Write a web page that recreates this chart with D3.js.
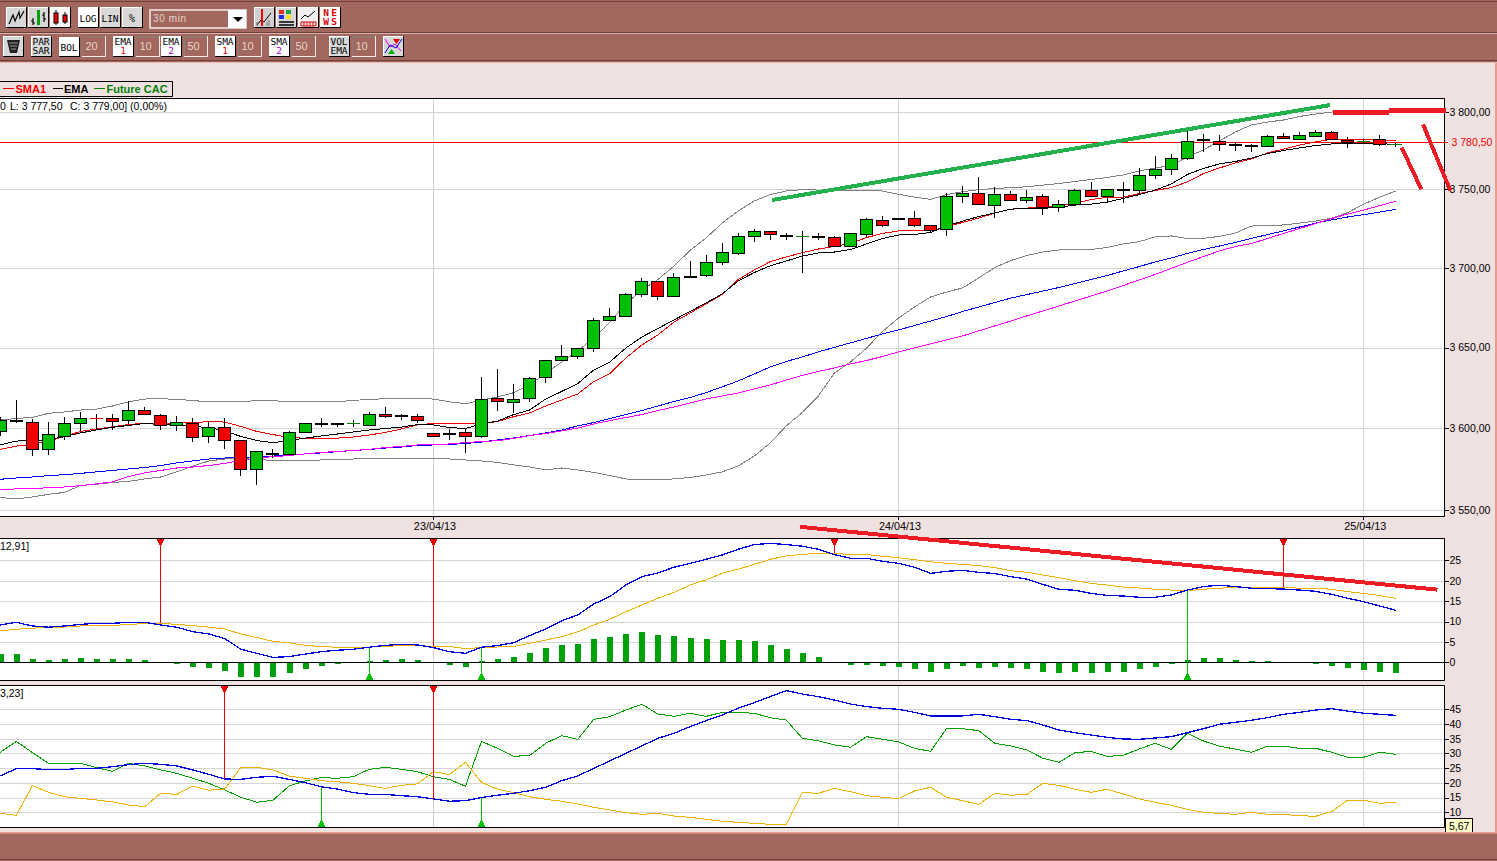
<!DOCTYPE html>
<html>
<head>
<meta charset="utf-8">
<title>Future CAC 30 min</title>
<script src="https://cdn.jsdelivr.net/npm/d3@7"></script>
<style>
  html, body { margin: 0; padding: 0; background: #f0e1e1; overflow: hidden; }
  svg { display: block; }
  text { font-family: "Liberation Sans", Arial, sans-serif; font-size: 10.5px; fill: #000; }
  .tb text { font-family: "DejaVu Sans Mono", monospace; font-size: 9.5px; text-anchor: middle; }
</style>
</head>
<body>
<svg id="chart" width="1497" height="861"></svg>
<script>
// 30 min candles, one entry per bar
var open = [3598,3604.5,3604,3587,3595.5,3603.5,3606,3606,3605,3611,
  3608,3602,3603.5,3595,3600.5,3592.5,3575,3585,3584,3597.5,
  3602.5,3603.5,3603,3602,3608.5,3607.5,3607.5,3597,3596.5,3597.5,
  3595.5,3618.5,3616,3618.5,3631.5,3642.5,3645,3649.5,3667,3669.5,
  3683.5,3692,3682,3694.5,3695.5,3704,3709.5,3720.5,3723.5,3720.5,
  3720.5,3719.5,3719.5,3714,3721.5,3730.5,3731,3731.5,3727,3725,
  3745.5,3748,3740,3747,3743.5,3745.5,3739,3741,3749.5,3746,
  3750.5,3749.5,3759.5,3763,3770.5,3782,3781.5,3779.5,3778,3778,
  3784.5,3782.5,3784.5,3787,3782,3781,3782.5,3779];
var close = [3605,3605,3587,3596.5,3603.5,3606,3606,3604.5,3611,3608.5,
  3602,3604,3594.5,3600.5,3592.5,3575,3586,3584,3597.5,3603,
  3603.5,3602.5,3603,3608.5,3607.5,3608,3605,3595.5,3597,3595.5,
  3618,3616.5,3618,3631,3642.5,3644.5,3649.5,3667,3670,3683.5,
  3691.5,3682.5,3694.5,3695,3704,3710,3720.5,3723.5,3721.5,3721,
  3720.5,3720,3714,3722,3731,3727.5,3731.5,3727,3724,3746,
  3748,3740.5,3747,3743.5,3745,3738.5,3740.5,3749.5,3745.5,3750.5,
  3749.5,3759.5,3763,3770.5,3781,3782.5,3779.5,3778.5,3778.5,3784.5,
  3783,3785,3787,3782.5,3780.5,3781,3779,3779];
var high = [3607,3617.5,3605.5,3604,3607,3610,3608.5,3608.5,3616.5,3613,
  3608.5,3607.5,3606,3604.5,3606,3592.5,3586,3587,3598,3603.5,
  3606.5,3603.5,3605,3610,3613,3609,3608.5,3597,3599.5,3599.5,
  3631.5,3636.5,3627.5,3631.5,3642.5,3651.5,3650,3668.5,3674.5,3684.5,
  3693.5,3692,3697,3704.5,3708,3716,3722,3725,3723.5,3722,
  3723.5,3722,3720.5,3722,3732,3733,3731.5,3736,3727,3748,
  3752,3758,3751.5,3749,3749.5,3747,3743,3750.5,3755,3750.5,
  3755,3763.5,3771.5,3772.5,3787.5,3786,3785,3780.5,3779.5,3785,
  3786.5,3787,3788,3787.5,3783.5,3782.5,3785,3780];
var low = [3595,3603.5,3583,3583.5,3592.5,3598,3599.5,3599,3602.5,3608,
  3599,3598,3591.5,3591,3587.5,3570.5,3565,3581.5,3583.5,3597,
  3600.5,3600.5,3601,3602,3606.5,3605,3603,3595.5,3593,3584.5,
  3594,3610.5,3609.5,3616,3628,3642.5,3643,3647,3666.5,3669,
  3681.5,3680,3681.5,3693.5,3694.5,3702,3708.5,3716.5,3717.5,3718,
  3696.5,3717.5,3714,3714,3719.5,3726,3731,3726,3722.5,3720.5,
  3741.5,3740.5,3731.5,3743.5,3741.5,3733.5,3735.5,3740,3745.5,3741.5,
  3741.5,3747,3757,3759,3769,3774,3775,3775,3774,3778,
  3783,3782.5,3784.5,3782.5,3776.5,3780,3778,3777.5];
var flatRedBars = [6];

// overlays on the price panel
var bolUp = [3605,3606,3606.7,3609.2,3610,3611.2,3611.8,3613.7,3616.3,3618,
  3618.2,3617.8,3617.1,3616.2,3616.2,3616.3,3617.1,3617,3616.3,3616.3,
  3616.2,3616.3,3617.2,3617.7,3618.2,3618.2,3618.2,3618,3616.3,3615.1,
  3617.4,3619.3,3621.9,3626.7,3634.1,3641,3647.9,3656,3666,3677.3,
  3686.1,3692.7,3701.2,3711.1,3719,3728.5,3736.2,3742.6,3746.7,3749,
  3749.9,3749.6,3749.3,3749.2,3749.3,3749,3746.9,3745.1,3743.6,3746.7,
  3748.6,3749.9,3750.6,3751.2,3751.7,3752.8,3753.8,3755.1,3756.4,3757.7,
  3759.3,3761.9,3763.8,3765.4,3770.9,3775.4,3781.2,3787.1,3791.6,3793.5,
  3794.8,3797.1,3798.7,3800,3800.3,3800.3,3800.3,3800.3];
var bolLow = [3557.6,3556.7,3557.9,3559.5,3560.7,3564.9,3565.6,3566.8,3567.4,3568.9,
  3570.1,3573.2,3576.8,3579.9,3581.1,3581.4,3580.8,3580.2,3579.9,3579.9,
  3580.5,3580.8,3581.1,3581.3,3581.4,3581.4,3581.4,3581.5,3581.1,3580.5,
  3579.9,3579,3577.5,3576.2,3574.4,3575.6,3574.4,3572.9,3571,3568.9,
  3568.3,3568.6,3568.9,3569.8,3571.3,3573.2,3576.8,3582.9,3590.9,3601.4,
  3609.7,3619.9,3634.1,3641,3649.7,3660,3668.5,3675.4,3681.7,3684.8,
  3687.4,3693.7,3700.3,3704.7,3707.9,3710.1,3711.4,3711.4,3711.7,3713,
  3715.2,3716.7,3719.7,3720.3,3718.7,3718.8,3720,3722.2,3726.6,3727,
  3727.3,3728.5,3729.8,3731.7,3735.2,3740.6,3745.1,3749];
var ema1 = [3589.7,3592.1,3592.4,3593,3594.9,3597.1,3598.9,3600.6,3601.7,3602.9,
  3602.3,3601.7,3601.1,3600.4,3598.3,3594.9,3592.4,3591.1,3592.4,3593.9,
  3595.2,3596.4,3597.7,3598.9,3599.8,3600.7,3602.2,3602,3600.4,3599.8,
  3602.6,3604.4,3608.4,3611.2,3618,3622.7,3627.6,3636,3641,3649.7,
  3656.6,3661.9,3667.3,3672.6,3677.9,3683.6,3691.8,3697.1,3701.4,3704.4,
  3707.5,3709.5,3710.1,3711.7,3715.2,3718.7,3720.9,3721.3,3722.5,3726.6,
  3729.8,3732.7,3734.9,3737.4,3737.8,3737.9,3738.7,3740,3740.6,3741.9,
  3744.2,3746.7,3749.6,3753.5,3759.6,3763.5,3766.4,3768,3770.2,3773.1,
  3775.1,3776.7,3778.3,3779.3,3779.6,3779.8,3779.4,3779.1];
var sma1 = [3587,3589,3590,3592.1,3594.9,3598,3599.5,3600.9,3602.3,3603,
  3603.2,3603.2,3603.5,3604,3603.8,3601.1,3598,3596.1,3594.3,3593.8,
  3593.8,3593.9,3594.6,3595.8,3597.4,3599.5,3602,3603,3602.9,3602.6,
  3602.9,3604.1,3607.1,3609.4,3613.7,3617.4,3621.1,3628.9,3633.8,3643.5,
  3651.6,3657.9,3666,3671.6,3677.3,3683.3,3692.7,3698.7,3704,3707,
  3709.7,3712,3713.6,3715.5,3719.3,3721.9,3723.5,3723.5,3723.5,3726.3,
  3728.9,3731.7,3734.9,3737.4,3738.1,3738.4,3740,3741,3743.6,3744.9,
  3745,3747.4,3749.3,3751.2,3754.8,3760.2,3763.8,3767,3769.6,3773.5,
  3776,3778.6,3780.6,3782.3,3782.5,3782.2,3781.9,3781.4];
var ema2 = [3568.7,3569.5,3570.1,3570.9,3571.5,3572.3,3573.2,3574.1,3575,3575.9,
  3577.1,3578.7,3579.9,3581.1,3581.7,3582,3582.3,3582.9,3583.5,3584.2,
  3584.8,3585.6,3586.3,3586.9,3587.8,3588.4,3589.4,3589.7,3590,3590.6,
  3591.5,3592.8,3594,3595.5,3597.1,3598.9,3601.4,3603.5,3606,3608.4,
  3610.9,3613.7,3616.5,3618.9,3622,3625.5,3629.2,3633.5,3637.9,3641.3,
  3644.1,3647.3,3650.1,3652.9,3655.7,3658.5,3661,3663.8,3666.6,3669.4,
  3672.6,3675.4,3678.2,3681,3683.2,3685.4,3687.7,3690.2,3692.7,3695.2,
  3698.1,3700.9,3703.8,3706.3,3709.2,3711.7,3713.9,3716.2,3718.7,3721.2,
  3723.5,3726,3728.5,3730.5,3732.4,3733.9,3735.5,3737.2];
var sma2 = [3562.5,3562.8,3563.1,3563.5,3564,3564.8,3565.9,3567.1,3570.4,3572.6,
  3574.1,3575.6,3576.2,3577.1,3578.4,3580.2,3581.7,3582.5,3583.2,3584.2,
  3585.1,3585.7,3586.3,3587,3588.1,3588.8,3589.7,3590.1,3590.3,3591.2,
  3591.8,3592.3,3593.7,3595.5,3596.7,3598.3,3600.1,3602.6,3604.7,3606.6,
  3608.4,3610.9,3613.1,3615.5,3618,3619.9,3621.7,3624.2,3626.7,3629.8,
  3632.6,3635.1,3637.3,3639.8,3641.9,3644.4,3647.3,3649.8,3652.3,3654.8,
  3657.3,3660.4,3663.5,3666.6,3669.8,3672.9,3676,3679.2,3682.3,3685.5,
  3688.9,3692.4,3695.9,3699.7,3703.5,3707.2,3710.8,3713.6,3715.5,3718.7,
  3721.9,3725,3728.2,3731.4,3734.3,3736.8,3739.7,3742.4];

// MACD panel
var macd = [9.15,9.8,8.9,8.6,8.9,9.3,9.55,9.55,9.8,9.8,
  9.15,8.6,7.5,6.95,5.8,3.2,2.2,1.2,1.4,2,
  2.6,2.95,3.2,3.7,4.15,4.4,4.25,3.6,2.6,2.2,
  3.7,4.1,4.8,6.55,8.15,10.2,11.6,14.3,16.1,18.95,
  21,21.9,23.3,24.25,25.25,26.3,27.7,28.85,29.15,28.85,
  28.45,27.7,26.4,25.5,25.5,24.75,24.25,23.3,21.8,22.3,
  22.55,22.05,21.75,21,20.4,19.1,17.9,17.65,16.9,16.4,
  16.25,15.95,15.95,16.5,17.7,18.55,18.9,18.55,18.15,18.05,
  17.95,17.7,17.4,16.65,15.7,14.85,13.8,12.75];
var macdSignal = [7.7,8.1,8.35,8.6,8.65,8.9,9.05,9.05,9.25,9.5,
  9.55,9.3,9,8.6,8.15,6.95,6.05,5.15,4.75,4.15,
  3.85,3.7,3.6,3.75,3.9,4.1,4.1,3.9,3.85,3.35,
  3.6,3.75,3.85,4.65,5.45,6.3,7.45,9.15,10.55,12.4,
  14.05,15.7,17.15,18.95,20.2,21.8,22.8,24,25.25,26.05,
  26.45,26.7,26.65,26.45,26.4,26,25.65,25.15,24.65,24.25,
  24,23.7,23.2,22.45,22.05,21.4,20.75,20,19.35,18.95,
  18.45,18.2,17.9,17.7,17.55,17.9,18.15,18.4,18.4,18.4,
  18.4,18.15,18.15,17.9,17.3,16.9,16.35,15.7];
var macdHist = [2.05,2.05,0.8,0.55,0.8,1.05,0.8,0.8,0.8,0.55,
  0,-0.3,-1.15,-1.4,-2.1,-3.6,-3.6,-3.6,-2.6,-1.65,
  -0.9,-0.3,0,0.3,0.55,0.8,0.55,0,-0.65,-1.15,
  0.3,0.8,1.3,2.3,3.5,4.25,4.5,5.7,6.2,6.95,
  7.45,6.7,6.45,5.95,5.7,5.45,5.45,5.25,4.25,3.25,
  2.3,1.3,0,-0.65,-0.65,-0.9,-1.15,-1.65,-2.35,-1.65,
  -0.9,-1.4,-1.15,-1.4,-1.65,-2.35,-2.6,-2.35,-2.6,-2.35,
  -2.35,-1.65,-1.15,-0.3,0.55,1.05,1.05,0.55,0.3,0.3,
  0,0,-0.3,-0.9,-1.4,-1.9,-2.35,-2.6];
var macdSell = [10,27,52,80];
var macdBuy = [23,30,74];

// directional panel
var adx = [22.35,24.85,24.85,24.5,24.5,24.95,24.95,25.5,26.2,26.65,
  26.3,25.75,24.4,22.9,21.3,21.2,21.9,22.25,21.2,20.1,
  18.7,17.9,16.7,16.1,16.1,15.65,15.3,14.55,13.75,13.95,
  15,15.8,16.45,17.35,18.5,20.75,22.35,24.95,27.45,30.05,
  32.55,35.15,36.85,39.1,41.15,43.05,45.35,47.25,49.3,51.35,
  50.2,49.3,48.15,46.8,45.9,45.35,45,43.95,42.75,42.75,
  42.75,43.3,42.5,41.6,41.15,39.65,37.95,37.05,36.25,35.5,
  34.9,34.8,35.25,35.7,37.05,38.4,39.9,40.6,41.25,42.15,
  43.3,43.95,44.75,45.2,44.4,43.65,43.3,42.95];
var diPlus = [30.4,34.1,30.3,26.65,26.65,26.65,25.2,23.9,26.65,25.75,
  24.4,23.25,21.55,19.85,17.6,15.1,13.4,14.1,18.95,20.65,
  21.8,21.55,22.1,24.6,25.3,24.6,23.8,22.1,21.2,18.85,
  34.1,31.75,29,29.35,33.45,36.05,34.8,41.6,42.5,44.75,
  46.7,43.4,42.6,43.65,42.6,43.95,43.95,43.65,42.15,41.35,
  35.15,34.25,32.9,32.1,35.7,34.8,33.9,31.75,30.7,38.55,
  38.4,37.75,33.45,32.55,31.2,28.35,27,30.25,30.7,29,
  29.35,31.5,33.45,31.4,36.85,34.25,32.45,31.5,30.4,32.45,
  32.45,31.75,31.75,30.4,28.7,28.7,30.4,29.7];
var diMinus = [9.65,9,19.05,16.8,15.3,14.75,14.2,13.5,12.5,11.9,
  16.45,16.1,18.85,17.5,17.95,25.3,25.3,24.4,22.35,21.55,
  20.75,20.4,19.85,19.05,18.15,19.15,19.65,23.8,22.8,27,
  20.2,17.8,16.7,15.3,14.4,13.75,12.85,11.7,10.8,9.9,
  9.3,9.65,8.75,8.3,7.6,6.95,6.6,6.25,5.9,5.9,
  16.7,16.45,18.15,17,15.65,15.1,14.65,17.25,18.5,15.1,
  13.95,12.7,16.45,15.8,16.1,19.85,19.15,17.8,16.8,17.8,
  16.25,14.55,13.4,12.4,11,10,9.65,9.3,10,9.3,
  9.3,8.85,8.65,10.25,14.1,14.1,13.05,13.4];
var adxSell = [14,27];
var adxBuy = [20,30];

// axes
var priceTicks = [3800,3750,3700,3650,3600,3550];
var macdTicks = [25,20,15,10,5,0];
var adxTicks = [45,40,35,30,25,20,15,10];
var dayBars = [27,56,85];
var dayLabels = ["23/04/13","24/04/13","25/04/13"];
var lastPrice = 3780.5;

// lines drawn by hand on the chart [bar, value]
var greenTrend = [[48.1,3743.2],[82.9,3804.5]];
var redTop1 = [[83.1,3800],[86.6,3800]];
var redTop2 = [[86.6,3800.7],[90.1,3800.7]];
var redFall1 = [[87.37,3776.9],[88.6,3750]];
var redFall2 = [[88.7,3792],[90.4,3749.2]];
var macdTrend = [[49.86,33.2],[89.6,17.8]];

var svg = d3.select("#chart"),
    panelRight = 1444.5;

var x = d3.scaleLinear().domain([0, 87]).range([0.3, 1395.8]);
var yPrice = d3.scaleLog().domain([3550, 3800]).range([510, 112]);
var yMacd = d3.scaleLinear().domain([0, 25]).range([662.3, 560.3]);
var yAdx = d3.scaleLinear().domain([10, 45]).range([812.3, 709.3]);

// pixel column of a bar
function barX(i) { return Math.floor(x(i)); }

// pink page with the brown toolbars and bottom band
svg.append("rect").attr("width", 1497).attr("height", 861).attr("fill", "#f0e1e1");
svg.append("rect").attr("x", 1495).attr("width", 2).attr("height", 861).attr("fill", "#ec9a8c");
svg.append("rect").attr("width", 1497).attr("height", 62).attr("fill", "#a2675f");
svg.append("rect").attr("y", 1).attr("width", 1497).attr("height", 1).attr("fill", "#6e3f3a");
svg.append("rect").attr("y", 32).attr("width", 1497).attr("height", 1).attr("fill", "#6e3f3a");
svg.append("rect").attr("y", 33).attr("width", 1497).attr("height", 1).attr("fill", "#d9b0aa");
svg.append("rect").attr("y", 60).attr("width", 1497).attr("height", 1).attr("fill", "#6e3f3a");
svg.append("rect").attr("y", 62).attr("width", 1497).attr("height", 1).attr("fill", "#e6b9b2");

function panel(id, top, bottom) {
  svg.append("rect").attr("x", -2).attr("y", top).attr("width", panelRight + 2).attr("height", bottom - top)
     .attr("fill", "#fff");
  svg.append("clipPath").attr("id", id)
     .append("rect").attr("x", 0).attr("y", top).attr("width", panelRight).attr("height", bottom - top);
  return svg.append("g").attr("clip-path", "url(#" + id + ")");
}

function grid(g, ticks, scale, top, bottom) {
  g.selectAll("line.h").data(ticks).enter().append("line").attr("class", "h")
   .attr("x1", 0).attr("x2", panelRight)
   .attr("y1", function(d) { return Math.round(scale(d)) + 0.5; })
   .attr("y2", function(d) { return Math.round(scale(d)) + 0.5; })
   .attr("stroke", "#d4d4d4");
  g.selectAll("line.v").data(dayBars).enter().append("line").attr("class", "v")
   .attr("x1", function(d) { return barX(d) + 0.5; })
   .attr("x2", function(d) { return barX(d) + 0.5; })
   .attr("y1", top).attr("y2", bottom)
   .attr("stroke", "#d4d4d4");
}

function series(g, values, scale, colour, width) {
  var line = d3.line()
    .x(function(d, i) { return x(i); })
    .y(function(d) { return scale(d); });
  g.append("path").attr("d", line(values))
   .attr("fill", "none").attr("stroke", colour).attr("stroke-width", width)
   .attr("shape-rendering", "crispEdges");
}

function border(top, bottom) {
  svg.append("path")
     .attr("d", "M-2," + (top + 0.5) + "H" + panelRight + "V" + (bottom + 0.5) + "H-2")
     .attr("fill", "none").attr("stroke", "#000");
}

function rightAxis(scale, ticks, format) {
  var axis = d3.axisRight(scale).tickValues(ticks).tickFormat(format).tickSize(4).tickPadding(1);
  var g = svg.append("g").attr("transform", "translate(" + panelRight + ",0)").call(axis);
  g.select(".domain").remove();
  g.selectAll("text").style("font-family", "Liberation Sans").style("font-size", "10.5px");
  g.selectAll(".tick line").attr("stroke", "#000").attr("shape-rendering", "crispEdges");
  return g;
}

// stepped arrow heads, red ones hang from the top, green ones stand on the bottom
function signals(g, bars, values, scale, colour, top, down) {
  bars.forEach(function(b) {
    var px = barX(b) + 0.5, s = down ? 1 : -1;
    g.append("line").attr("x1", px).attr("x2", px)
     .attr("y1", top).attr("y2", scale(values[b]))
     .attr("stroke", colour).attr("shape-rendering", "crispEdges");
    g.append("path")
     .attr("d", "M" + (px - 3.5) + "," + top + "H" + (px + 3.5) + "V" + (top + s * 2) + "H" + (px + 2.5) +
                "V" + (top + s * 4) + "H" + (px + 1.5) + "V" + (top + s * 6) + "H" + (px - 1.5) +
                "V" + (top + s * 4) + "H" + (px - 2.5) + "V" + (top + s * 2) + "H" + (px - 3.5) + "Z")
     .attr("fill", colour).attr("shape-rendering", "crispEdges");
  });
}

function sketch(points, ys, colour, width) {
  svg.append("line")
     .attr("x1", x(points[0][0])).attr("y1", ys(points[0][1]))
     .attr("x2", x(points[1][0])).attr("y2", ys(points[1][1]))
     .attr("stroke", colour).attr("stroke-width", width)
     .attr("shape-rendering", "crispEdges");
}

// price panel
var pg = panel("clipPrice", 98, 516);
grid(pg, priceTicks, yPrice, 98, 516);
pg.append("line").attr("x1", 0).attr("x2", panelRight)
  .attr("y1", Math.round(yPrice(lastPrice)) + 0.5).attr("y2", Math.round(yPrice(lastPrice)) + 0.5)
  .attr("stroke", "#f00000");
series(pg, bolUp, yPrice, "#808080", 1);
series(pg, bolLow, yPrice, "#808080", 1);
series(pg, ema2, yPrice, "#0000ff", 1);
series(pg, sma2, yPrice, "#ff00ff", 1);
series(pg, sma1, yPrice, "#f00000", 1);
series(pg, ema1, yPrice, "#000000", 1);

// candles sit on top of the moving averages
var bars = d3.range(open.length);
pg.selectAll("line.wick").data(bars).enter().append("line").attr("class", "wick")
  .attr("x1", function(i) { return barX(i) + 0.5; })
  .attr("x2", function(i) { return barX(i) + 0.5; })
  .attr("y1", function(i) { return yPrice(high[i]); })
  .attr("y2", function(i) { return yPrice(low[i]); })
  .attr("stroke", "#000").attr("shape-rendering", "crispEdges");
pg.selectAll("rect.body").data(bars.filter(function(i) { return open[i] !== close[i]; })).enter()
  .append("rect").attr("class", "body")
  .attr("x", function(i) { return barX(i) - 5.5; })
  .attr("width", 12)
  .attr("y", function(i) { return Math.round(yPrice(Math.max(open[i], close[i]))) + 0.5; })
  .attr("height", function(i) {
    return Math.max(1, Math.round(yPrice(Math.min(open[i], close[i]))) - Math.round(yPrice(Math.max(open[i], close[i]))));
  })
  .attr("fill", function(i) { return close[i] > open[i] ? "#00c000" : "#f00000"; })
  .attr("stroke", "#000").attr("shape-rendering", "crispEdges");
pg.selectAll("line.flat").data(bars.filter(function(i) { return open[i] === close[i]; })).enter()
  .append("line").attr("class", "flat")
  .attr("x1", function(i) { return barX(i) - 6; })
  .attr("x2", function(i) { return barX(i) + 7; })
  .attr("y1", function(i) { return Math.round(yPrice(close[i])) + 0.5; })
  .attr("y2", function(i) { return Math.round(yPrice(close[i])) + 0.5; })
  .attr("stroke", function(i) { return flatRedBars.indexOf(i) >= 0 ? "#f00000" : "#008000"; })
  .attr("shape-rendering", "crispEdges");
border(98, 516);

var frNum = function(v) {
  return d3.format(",.2f")(v).replace(",", " ").replace(".", ",");
};
rightAxis(yPrice, priceTicks, frNum);

var dateAxis = d3.axisBottom(x).tickValues(dayBars)
  .tickFormat(function(d, i) { return dayLabels[i]; }).tickSize(4).tickPadding(2);
var dg = svg.append("g").attr("transform", "translate(-0.5,516)").call(dateAxis);
dg.select(".domain").remove();
dg.selectAll("text").attr("dx", 1.5).style("font-family", "Liberation Sans").style("font-size", "10.8px");
dg.selectAll(".tick line").attr("stroke", "#000").attr("shape-rendering", "crispEdges");

svg.append("text").attr("x", 1451.5).attr("y", yPrice(lastPrice) + 4)
   .style("fill", "#f00000").text(frNum(lastPrice));
svg.append("line").attr("x1", panelRight).attr("x2", 1448)
   .attr("y1", Math.round(yPrice(lastPrice)) + 0.5).attr("y2", Math.round(yPrice(lastPrice)) + 0.5)
   .attr("stroke", "#f00000");

// bar info above the panels
svg.append("text").attr("x", 0).attr("y", 110).text("0");
svg.append("text").attr("x", 10).attr("y", 110).text("L: 3 777,50");
svg.append("text").attr("x", 70).attr("y", 110).text("C: 3 779,00] (0,00%)");

// legend box
svg.append("path").attr("d", "M-2,81.5H172.5V96.5H-2").attr("fill", "#f0e1e1").attr("stroke", "#000");
var legend = [
  {x1: 3, x2: 14, tx: 15.5, label: "SMA1", colour: "#f00000"},
  {x1: 53, x2: 63, tx: 64, label: "EMA", colour: "#000000"},
  {x1: 94, x2: 105, tx: 106.5, label: "Future CAC", colour: "#008000"}
];
legend.forEach(function(l) {
  svg.append("line").attr("x1", l.x1).attr("x2", l.x2).attr("y1", 88.5).attr("y2", 88.5).attr("stroke", l.colour);
  svg.append("text").attr("x", l.tx).attr("y", 93).style("fill", l.colour)
     .style("font-weight", "bold").style("font-size", "11px").text(l.label);
});

// MACD
var mg = panel("clipMacd", 538, 680);
grid(mg, macdTicks.slice(0, 5), yMacd, 538, 680);
mg.selectAll("rect.hist").data(bars.filter(function(i) { return macdHist[i] !== 0; })).enter()
  .append("rect").attr("class", "hist")
  .attr("x", function(i) { return barX(i) - 2; })
  .attr("width", 6)
  .attr("y", function(i) { return Math.min(yMacd(0), yMacd(macdHist[i])); })
  .attr("height", function(i) { return Math.abs(yMacd(macdHist[i]) - yMacd(0)); })
  .attr("fill", "#00a00c").attr("shape-rendering", "crispEdges");
mg.append("line").attr("x1", 0).attr("x2", panelRight)
  .attr("y1", Math.round(yMacd(0)) + 0.5).attr("y2", Math.round(yMacd(0)) + 0.5).attr("stroke", "#000");
signals(mg, macdSell, macd, yMacd, "#ee0000", 539, true);
signals(mg, macdBuy, macd, yMacd, "#00c000", 680, false);
series(mg, macdSignal, yMacd, "#f0b000", 1);
series(mg, macd, yMacd, "#0000e0", 1.3);
border(538, 680);
rightAxis(yMacd, macdTicks, function(d) { return d; });
svg.append("text").attr("x", 0).attr("y", 550).text("12,91]");

// directional indicators
var ag = panel("clipAdx", 685, 827);
grid(ag, adxTicks, yAdx, 685, 827);
series(ag, diPlus, yAdx, "#00a000", 1);
series(ag, diMinus, yAdx, "#f0b000", 1);
series(ag, adx, yAdx, "#0000e0", 1.3);
signals(ag, adxSell, adx, yAdx, "#ee0000", 686, true);
signals(ag, adxBuy, adx, yAdx, "#00c000", 827, false);
border(685, 827);
rightAxis(yAdx, adxTicks, function(d) { return d; });
svg.append("text").attr("x", 0).attr("y", 697).text("3,23]");

// small yellow tag under the axis
svg.append("rect").attr("x", 1445.5).attr("y", 818.5).attr("width", 27).attr("height", 14)
   .attr("fill", "#ffffcc").attr("stroke", "#000");
svg.append("text").attr("x", 1449).attr("y", 830).text("5,67");

// bottom band
svg.append("rect").attr("y", 832).attr("width", 1497).attr("height", 1).attr("fill", "#ec9a8c");
svg.append("rect").attr("y", 833).attr("width", 1497).attr("height", 1).attr("fill", "#c58a80");
svg.append("rect").attr("y", 834).attr("width", 1497).attr("height", 27).attr("fill", "#a2675f");
svg.append("rect").attr("y", 859).attr("width", 1497).attr("height", 1).attr("fill", "#6e3f3a");

// hand drawn trend lines go over everything
sketch(greenTrend, yPrice, "#22b14c", 4);
sketch(redTop1, yPrice, "#ed1c24", 5);
sketch(redTop2, yPrice, "#ed1c24", 5);
sketch(redFall1, yPrice, "#ed1c24", 4);
sketch(redFall2, yPrice, "#ed1c24", 4);
sketch(macdTrend, yMacd, "#ed1c24", 4);

// ---- toolbars ----
var tb = svg.append("g").attr("class", "tb");

function button(bx, by, w, h, face) {
  var g = tb.append("g").attr("transform", "translate(" + bx + "," + by + ")");
  g.append("rect").attr("width", w).attr("height", h).attr("rx", 1).attr("fill", "#000");
  g.append("rect").attr("x", 0).attr("y", 0).attr("width", w - 1).attr("height", h - 1).attr("fill", "#fff");
  g.append("rect").attr("x", 1).attr("y", 1).attr("width", w - 2).attr("height", h - 2).attr("fill", face);
  return g;
}

function textButton(bx, by, w, h, face, lines) {
  var g = button(bx, by, w, h, face);
  lines.forEach(function(l) {
    g.append("text").attr("x", w / 2 - 0.5).attr("y", l.y)
     .style("fill", l.colour || "#000").style("font-size", (l.size || 9.5) + "px").text(l.t);
  });
}

function inputBox(bx, by, label) {
  var g = tb.append("g").attr("transform", "translate(" + bx + "," + by + ")");
  g.append("rect").attr("width", 23).attr("height", 20).attr("fill", "#a2675f");
  g.append("path").attr("d", "M0.5,20V0.5H23").attr("fill", "none").attr("stroke", "#8a8078");
  g.append("path").attr("d", "M23.5,0V20.5H0").attr("fill", "none").attr("stroke", "#f4ecec");
  g.append("text").attr("x", 3.5).attr("y", 14).style("fill", "#e8d4c8").style("text-anchor", "start")
   .style("font-family", "Liberation Sans").style("font-size", "11px").text(label);
}

function polyIcon(g, d, colour, width) {
  g.append("path").attr("d", d).attr("fill", "none").attr("stroke", colour).attr("stroke-width", width || 1);
}

// row 1, chart type
var b1 = button(6, 7, 21, 21, "#d8d8d8");
polyIcon(b1, "M3,17L7,8L9,14L13,5L14,11L18,4", "#000", 1.2);
var b2 = button(28, 7, 21, 21, "#d8d8d8");
polyIcon(b2, "M5,11V18M3,14H5M5,16H7M16,5V15M14,8H16M16,12H18", "#000", 1.2);
b2.append("rect").attr("x", 9).attr("y", 3).attr("width", 3).attr("height", 15).attr("fill", "#00a000");
var b3 = button(50, 7, 21, 21, "#f8f8f8");
polyIcon(b3, "M6,3V18M15,5V17", "#000", 1);
b3.append("rect").attr("x", 4).attr("y", 6).attr("width", 4).attr("height", 10).attr("fill", "#f00000").attr("stroke", "#000");
b3.append("rect").attr("x", 13).attr("y", 8).attr("width", 4).attr("height", 7).attr("fill", "#f00000").attr("stroke", "#000");

textButton(78, 7, 21, 21, "#fff", [{t: "LOG", y: 15}]);
textButton(100, 7, 21, 21, "#d8d8d8", [{t: "LIN", y: 15}]);
textButton(122, 7, 21, 21, "#d8d8d8", [{t: "%", y: 15, size: 10}]);

// period combo
tb.append("rect").attr("x", 150).attr("y", 10).attr("width", 96).attr("height", 18).attr("fill", "#a2675f")
  .attr("stroke", "#f4ecec").attr("stroke-width", 1.5);
tb.append("rect").attr("x", 228).attr("y", 10).attr("width", 18).attr("height", 18).attr("fill", "#fff");
tb.append("path").attr("d", "M234,17H244L239,22Z").attr("fill", "#000").attr("transform", "translate(-1,0)");
tb.append("text").attr("x", 153).attr("y", 22).style("text-anchor", "start").style("fill", "#e8d4c8")
  .style("font-family", "Liberation Sans").style("font-size", "10px").style("letter-spacing", "0.6px").text("30 min");

// row 1, tools
var b4 = button(254, 7, 21, 21, "#d0d0d0");
polyIcon(b4, "M3,18L7,13L10,15L17,6", "#000", 1);
polyIcon(b4, "M8,2V19", "#f00000", 2);
polyIcon(b4, "M3,19V15M13,19V15M15,19V13", "#777", 1);
var b5 = button(276, 7, 21, 21, "#d8d8d8");
[["#e03020",3,3],["#20a040",10,3],["#2030e0",3,8],["#f0e020",10,8]].forEach(function(c) {
  b5.append("rect").attr("x", c[1]).attr("y", c[2]).attr("width", 5).attr("height", 4).attr("fill", c[0]);
});
polyIcon(b5, "M3,15H18M3,18H18", "#000", 1.5);
var b6 = button(298, 7, 21, 21, "#f0f0f0");
polyIcon(b6, "M3,12L7,8L10,10L17,4", "#000", 1);
polyIcon(b6, "M3,15H18V19H3ZM6,15V19M9,15V19M12,15V19M15,15V19", "#e00000", 1);
var b7 = button(320, 7, 21, 21, "#fff");
["N","E"].forEach(function(t, i) { b7.append("text").attr("x", 6 + i * 8).attr("y", 9).style("fill", "#e00000").style("font-weight", "bold").text(t); });
["W","S"].forEach(function(t, i) { b7.append("text").attr("x", 6 + i * 8).attr("y", 18).style("fill", "#e00000").style("font-weight", "bold").text(t); });

// row 2, indicators
var b8 = button(3, 36, 21, 21, "#d8d8d8");
b8.append("path").attr("d", "M4,4H17L14,17H7Z").attr("fill", "#222");
polyIcon(b8, "M6,7H15M7,10H14M8,13H13", "#999", 1);
textButton(31, 36, 21, 21, "#d8d8d8", [{t: "PAR", y: 9}, {t: "SAR", y: 18}]);
textButton(59, 37, 21, 20, "#fff", [{t: "BOL", y: 14}]);
inputBox(82, 36, "20");
textButton(113, 36, 21, 21, "#fff", [{t: "EMA", y: 9}, {t: "1", y: 18, colour: "#e00000"}]);
inputBox(136, 36, "10");
textButton(161, 36, 21, 21, "#fff", [{t: "EMA", y: 9}, {t: "2", y: 18, colour: "#a000c0"}]);
inputBox(184, 36, "50");
textButton(215, 36, 21, 21, "#fff", [{t: "SMA", y: 9}, {t: "1", y: 18, colour: "#e00000"}]);
inputBox(238, 36, "10");
textButton(269, 36, 21, 21, "#fff", [{t: "SMA", y: 9}, {t: "2", y: 18, colour: "#a000c0"}]);
inputBox(292, 36, "50");
textButton(329, 36, 21, 21, "#d8d8d8", [{t: "VOL", y: 9}, {t: "EMA", y: 18}]);
inputBox(352, 36, "10");
var b9 = button(383, 36, 21, 21, "#d8d8d8");
polyIcon(b9, "M2,3L7,11L12,8L18,15", "#e000e0", 1);
polyIcon(b9, "M2,17L7,9L13,12L19,3", "#0000e0", 1);
b9.append("path").attr("d", "M10,3H17L13.5,8Z").attr("fill", "#e00000");
b9.append("path").attr("d", "M5,18H12L8.5,13Z").attr("fill", "#00b000");
</script>
</body>
</html>
